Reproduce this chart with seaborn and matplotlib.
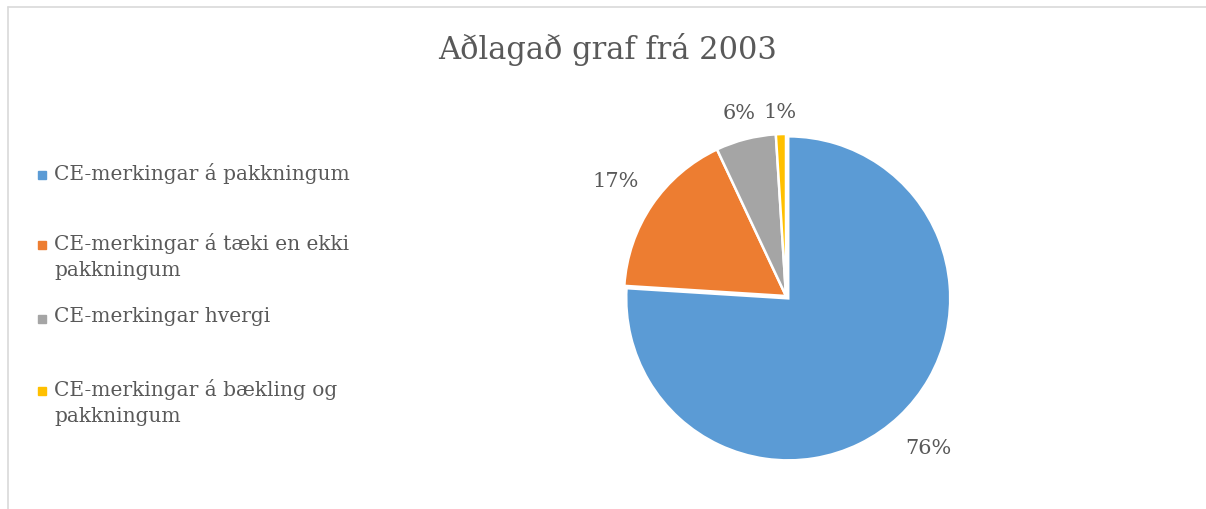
"""Pie chart: CE-merkingar, adapted graph from 2003."""

import matplotlib

matplotlib.use("Agg")

import matplotlib.pyplot as plt
import numpy as np
import seaborn as sns
from matplotlib.patches import Rectangle

categories = [
    "CE-merkingar á pakkningum",
    "CE-merkingar á tæki en ekki\npakkningum",
    "CE-merkingar hvergi",
    "CE-merkingar á bækling og\npakkningum",
]
shares = [76, 17, 6, 1]
colors = ["#5B9BD5", "#ED7D31", "#A5A5A5", "#FFC000"]
title = "Aðlagað graf frá 2003"

TEXT = "#595959"
W, H = 1206, 510

sns.set_theme(style="white")
plt.rcParams["font.family"] = ["DejaVu Serif", "DejaVu Sans"]

fig = plt.figure(figsize=(W / 100, H / 100), dpi=100)

# chart frame (only left and top edges are visible in the crop)
fig.add_artist(plt.Line2D([8 / W, 8 / W], [0, 1 - 8 / H], color="#D9D9D9", lw=1.2))
fig.add_artist(plt.Line2D([8 / W, 1], [1 - 8 / H, 1 - 8 / H], color="#D9D9D9", lw=1.2))

fig.text(608 / W, 1 - 50 / H, title, ha="center", va="center", fontsize=22, color=TEXT)

# pie: centre (786, 297) px, radius 162 px
r_px = 162
lim = 1.3
side = 2 * lim * r_px
ax = fig.add_axes([(786 - side / 2) / W, (H - 297 - side / 2) / H, side / W, side / H])
palette = sns.color_palette(colors)
wedges, texts, autotexts = ax.pie(
    shares,
    colors=palette,
    startangle=90,
    counterclock=False,
    explode=[0.02, 0, 0, 0],
    autopct="%1.0f%%",
    pctdistance=1.22,
    wedgeprops={"edgecolor": "white", "linewidth": 1.8},
    textprops={"fontsize": 15, "color": TEXT},
)
# Excel puts the labels at the outside end, closer for the small slices
label_dist = [1.28, 1.27, 1.17, 1.14]
for w, t, d in zip(wedges, autotexts, label_dist):
    w.set_clip_on(False)
    mid = np.deg2rad((w.theta1 + w.theta2) / 2)
    t.set_position((d * np.cos(mid), d * np.sin(mid)))
ax.set_xlim(-lim, lim)
ax.set_ylim(-lim, lim)
ax.set_aspect("equal")
ax.axis("off")

# legend on the left
legend_y = [176, 246, 320, 392]
for label, color, y in zip(categories, palette, legend_y):
    fig.add_artist(
        Rectangle((38 / W, 1 - (y + 4) / H), 8 / W, 8 / H, color=color, transform=fig.transFigure)
    )
    fig.text(54 / W, 1 - (y - 13) / H, label, ha="left", va="top",
             fontsize=14.5, color=TEXT, linespacing=1.5)

fig.savefig("out.png", dpi=100, facecolor="white")
